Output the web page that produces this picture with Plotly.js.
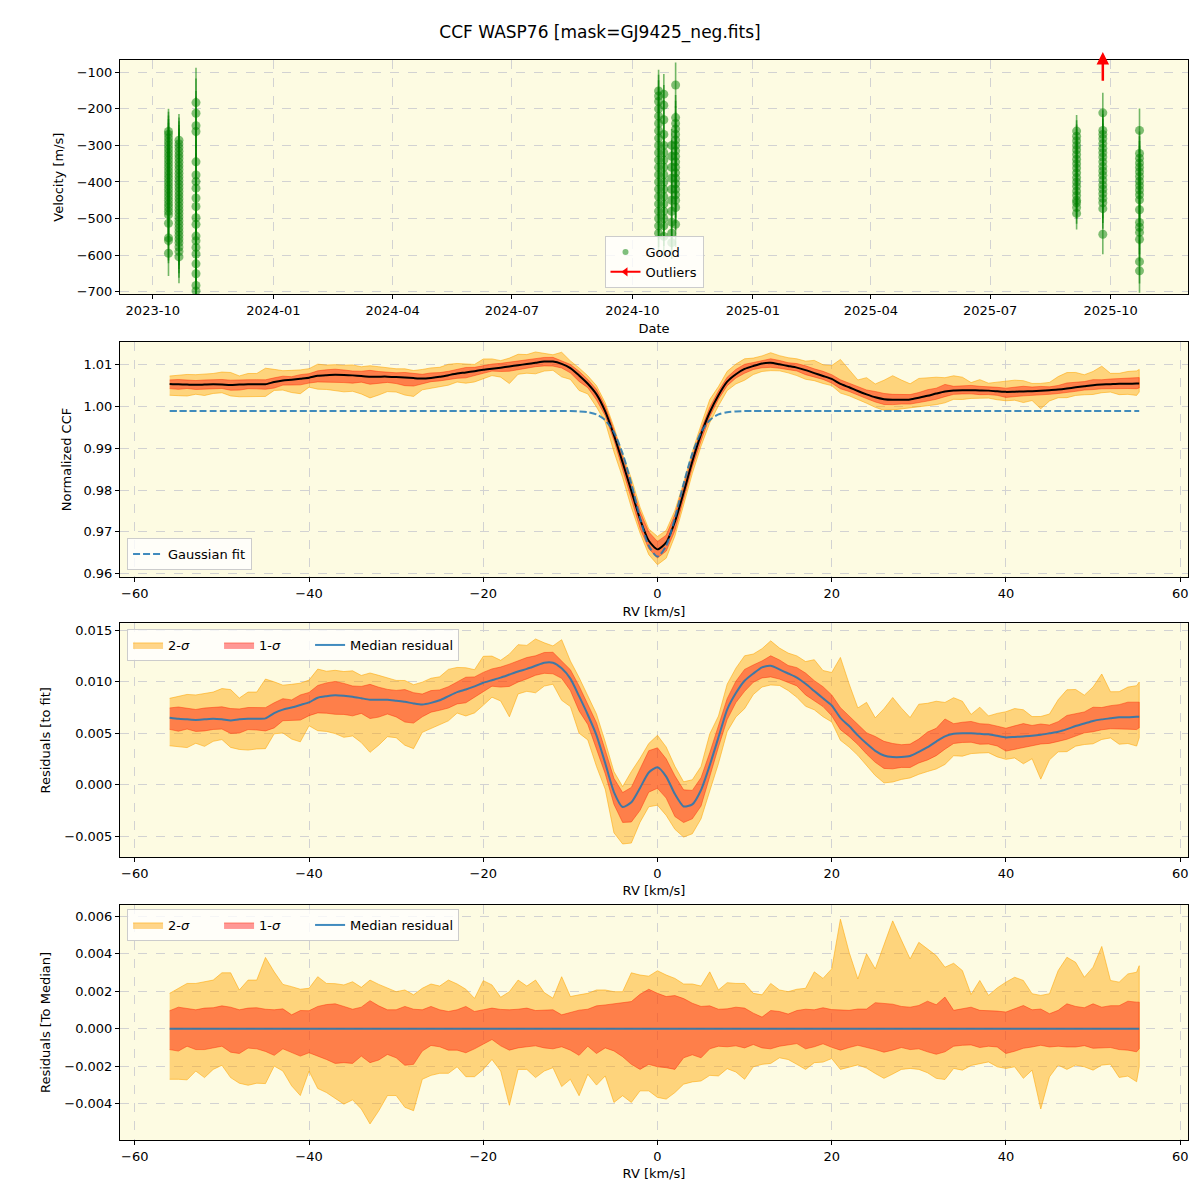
<!DOCTYPE html>
<html>
<head>
<meta charset="utf-8">
<script src="https://cdn.plot.ly/plotly-3.0.1.min.js"></script>
<style>html,body{margin:0;padding:0;background:#fff}#chart{width:1200px;height:1200px}</style>
</head>
<body>
<div id="chart"></div>
<script>
// ================= DATA =================
// Panel 1: RV time series (one date per observing night, values in m/s)
const night_dates = ['2023-10-13','2023-10-21','2023-11-03','2024-10-21','2024-10-25','2024-10-31','2024-11-03','2025-09-05','2025-09-25','2025-10-23'];
const night_vals = [
  [-262,-270,-280,-290,-300,-310,-320,-330,-340,-350,-360,-370,-380,-390,-400,-410,-420,-430,-440,-450,-460,-470,-480,-490,-513,-553,-560,-595],
  [-286,-296,-306,-316,-326,-336,-346,-356,-366,-376,-386,-396,-406,-416,-426,-436,-446,-456,-466,-476,-486,-496,-506,-516,-526,-536,-546,-556,-566,-578,-590,-605],
  [-183,-212,-246,-262,-345,-381,-399,-417,-444,-467,-498,-516,-548,-561,-579,-597,-624,-651,-683,-698],
  [-151,-165,-180,-200,-220,-240,-260,-280,-300,-320,-340,-360,-380,-400,-420,-440,-460,-480,-500,-520,-540],
  [-160,-190,-230,-270,-300,-320,-340,-360,-380,-400,-420,-440,-460,-480,-500,-520,-549],
  [-300,-330,-360,-390,-420,-450,-480,-510,-540,-566],
  [-135,-224,-240,-255,-270,-285,-300,-315,-330,-345,-360,-375,-390,-405,-420,-435,-450,-470,-516],
  [-261,-275,-287,-300,-312,-325,-338,-350,-362,-375,-388,-400,-412,-425,-437,-450,-457,-470,-486],
  [-211,-259,-270,-282,-295,-308,-320,-332,-345,-358,-370,-382,-395,-408,-420,-432,-445,-457,-473,-543],
  [-259,-322,-335,-348,-360,-372,-385,-398,-410,-422,-435,-449,-476,-511,-524,-538,-557,-618,-643]
];
const night_errs = [62,72,95,58,55,45,62,44,55,60];
const outlier_dates = ['2025-09-25'];
const outlier_vals = [150];

// Panels 2-4: CCF on an RV grid (km/s)
const rv = [-56,-55,-54,-53,-52,-51,-50,-49,-48,-47,-46,-45,-44,-43,-42,-41,-40,-39,-38,-37,-36,-35,-34,-33,-32,-31,-30,-29,-28,-27,-26,-25,-24,-23,-22,-21,-20,-19,-18,-17,-16,-15,-14,-13,-12,-11,-10,-9,-8,-7,-6,-5,-4,-3,-2,-1,0,1,2,3,4,5,6,7,8,9,10,11,12,13,14,15,16,17,18,19,20,21,22,23,24,25,26,27,28,29,30,31,32,33,34,35,36,37,38,39,40,41,42,43,44,45,46,47,48,49,50,51,52,53,54,55,55.3];

const ccf_median = [
  1.0054,1.0053,1.00525,1.0052,1.00525,1.0053,1.00525,1.00515,1.00525,1.0053,1.0053,1.00535,
  1.00585,1.0062,1.0064,1.00665,1.0069,1.00735,1.0075,1.0076,1.00755,1.00745,1.0073,1.00715,
  1.00715,1.00715,1.00705,1.00695,1.0068,1.0067,1.00685,1.0071,1.0075,1.0079,1.00815,1.00845,
  1.0088,1.00905,1.0093,1.0096,1.0099,1.01015,1.01045,1.01075,1.01075,1.0102,1.0092,1.00743,
  1.00545,1.0029,0.99882,0.99311,0.98658,0.9798,0.97302,0.96787,0.9658,0.96747,0.97242,0.9794,
  0.98683,0.99331,0.99862,1.0027,1.00595,1.00773,1.0090,1.0097,1.0103,1.01045,1.0101,1.0097,
  1.0093,1.0087,1.0080,1.0073,1.0066,1.0054,1.0046,1.0037,1.0029,1.0022,1.00175,1.0016,
  1.0016,1.0017,1.0021,1.00255,1.0031,1.0036,1.00385,1.0039,1.0039,1.00385,1.0038,1.00365,
  1.0035,1.00355,1.0036,1.00365,1.00375,1.0039,1.00405,1.0043,1.0046,1.00485,1.0051,1.00525,
  1.00535,1.00545,1.00545,1.0055,1.0055
];

const gauss_fit = [
  0.9989,0.9989,0.9989,0.9989,0.9989,0.9989,0.9989,0.9989,0.9989,0.9989,0.9989,0.9989,
  0.9989,0.9989,0.9989,0.9989,0.9989,0.9989,0.9989,0.9989,0.9989,0.9989,0.9989,0.9989,
  0.9989,0.9989,0.9989,0.9989,0.9989,0.9989,0.9989,0.9989,0.9989,0.9989,0.9989,0.9989,
  0.9989,0.9989,0.9989,0.9989,0.9989,0.9989,0.9989,0.9989,0.9989,0.9989,0.9989,0.99883,
  0.99865,0.9981,0.99672,0.99381,0.98873,0.9815,0.97332,0.96667,0.9641,0.96667,0.97332,0.9815,
  0.98873,0.99381,0.99672,0.9981,0.99865,0.99883,0.9989,0.9989,0.9989,0.9989,0.9989,0.9989,
  0.9989,0.9989,0.9989,0.9989,0.9989,0.9989,0.9989,0.9989,0.9989,0.9989,0.9989,0.9989,
  0.9989,0.9989,0.9989,0.9989,0.9989,0.9989,0.9989,0.9989,0.9989,0.9989,0.9989,0.9989,
  0.9989,0.9989,0.9989,0.9989,0.9989,0.9989,0.9989,0.9989,0.9989,0.9989,0.9989,0.9989,
  0.9989,0.9989,0.9989,0.9989,0.9989
];

// median residual to the Gaussian fit, in units of 1e-3
const resid_median_milli = [
  6.5,6.4,6.35,6.3,6.35,6.4,6.35,6.25,6.35,6.4,6.4,6.45,
  6.95,7.3,7.5,7.75,8.0,8.45,8.6,8.7,8.65,8.55,8.4,8.25,
  8.25,8.25,8.15,8.05,7.9,7.8,7.95,8.2,8.6,9.0,9.25,9.55,
  9.9,10.15,10.4,10.7,11.0,11.25,11.55,11.85,11.85,11.3,10.3,8.6,
  6.8,4.8,2.1,-0.7,-2.15,-1.7,-0.3,1.2,1.7,0.8,-0.9,-2.1,
  -1.9,-0.5,1.9,4.6,7.3,8.9,10.1,10.8,11.4,11.55,11.2,10.8,
  10.4,9.8,9.1,8.4,7.7,6.5,5.7,4.8,4.0,3.3,2.85,2.7,
  2.7,2.8,3.2,3.65,4.2,4.7,4.95,5.0,5.0,4.95,4.9,4.75,
  4.6,4.65,4.7,4.75,4.85,5.0,5.15,5.4,5.7,5.95,6.2,6.35,
  6.45,6.55,6.55,6.6,6.6
];

// spread of the individual CCFs around the median (quantile offsets), units of 1e-3
const dev_hi2_milli = [
  1.89,2.16,2.42,2.42,2.51,2.60,2.99,2.99,2.07,2.60,2.60,3.81,
  3.04,2.37,2.25,2.11,2.16,2.78,2.42,2.41,2.34,2.51,2.21,2.60,
  2.37,2.16,1.98,2.07,1.81,2.16,2.39,2.28,2.60,2.39,2.11,1.62,
  2.57,2.34,1.68,1.98,2.60,2.28,2.60,1.93,1.63,2.78,1.72,1.81,
  1.89,2.07,2.07,1.98,1.98,2.99,2.87,2.81,3.10,2.87,2.69,2.39,
  2.39,2.28,3.04,2.07,2.46,2.42,2.42,1.89,1.81,2.42,2.07,1.98,
  2.11,2.16,3.04,2.69,3.20,5.86,4.09,2.66,4.00,3.20,4.53,5.77,
  4.74,3.73,4.62,4.26,3.91,3.29,3.50,3.11,1.83,2.58,1.78,2.18,
  2.49,2.75,2.58,1.87,1.78,1.87,3.11,3.82,3.55,2.75,3.29,4.40,
  2.58,2.49,2.93,3.02,3.37
];
const dev_hi1_milli = [
  0.96,1.15,1.08,1.01,1.10,1.12,1.22,1.15,1.01,1.10,1.12,1.04,
  1.01,1.06,0.74,0.97,0.96,1.19,1.29,1.33,1.19,1.04,1.15,1.50,
  1.22,1.01,1.01,1.19,1.04,1.01,1.19,1.01,0.92,1.01,1.19,0.92,
  1.01,1.10,1.03,1.01,1.04,1.10,0.97,0.99,1.01,0.74,0.87,0.99,
  1.04,1.22,1.27,1.33,1.40,1.45,1.84,2.11,1.89,1.72,1.77,1.61,
  1.36,1.19,1.22,1.04,1.06,1.15,1.10,0.83,0.62,0.97,0.92,0.78,
  0.97,1.04,1.01,1.12,1.02,0.99,0.98,1.05,1.05,1.39,1.37,1.31,
  1.19,1.15,1.24,1.47,1.28,1.69,0.98,1.07,1.15,0.98,0.98,0.94,
  0.89,1.07,1.24,1.01,1.05,0.80,0.98,1.33,1.19,1.12,1.33,1.15,
  1.23,1.23,1.47,1.42,1.42
];
const dev_lo1_milli = [
  -1.12,-1.20,-0.94,-1.12,-1.12,-1.03,-0.94,-1.26,-1.33,-1.04,-1.08,-1.22,
  -1.43,-1.08,-1.26,-1.47,-1.29,-1.47,-1.65,-1.86,-1.82,-1.86,-1.47,-1.82,
  -1.68,-1.38,-1.56,-1.96,-1.91,-1.20,-0.90,-0.97,-1.15,-1.15,-1.29,-1.08,
  -0.85,-0.58,-0.92,-1.15,-1.03,-0.97,-0.92,-1.03,-1.08,-0.97,-1.15,-1.43,
  -0.94,-1.33,-1.03,-1.19,-1.50,-1.91,-2.18,-1.91,-2.04,-2.09,-2.18,-1.56,
  -1.40,-1.56,-1.08,-0.94,-0.97,-0.92,-1.03,-0.85,-1.03,-1.08,-0.94,-0.85,
  -0.80,-1.08,-0.97,-0.81,-1.00,-1.15,-1.01,-0.89,-1.01,-1.12,-1.26,-1.15,
  -1.01,-1.12,-1.08,-1.24,-1.37,-1.24,-0.94,-0.89,-0.87,-1.01,-0.94,-0.98,
  -1.33,-1.21,-1.05,-0.98,-0.89,-0.98,-0.94,-0.98,-0.98,-0.91,-1.05,-1.01,
  -1.01,-1.12,-1.15,-1.24,-1.07
];
const dev_lo2_milli = [
  -2.71,-2.71,-2.74,-2.27,-2.62,-2.18,-1.96,-2.62,-2.92,-3.03,-2.92,-2.94,
  -2.00,-2.27,-3.06,-3.58,-2.27,-3.20,-3.42,-3.73,-4.04,-3.81,-4.30,-5.10,
  -4.40,-3.58,-3.58,-4.21,-4.39,-2.71,-2.50,-2.39,-2.39,-2.04,-2.57,-2.57,
  -2.18,-1.65,-2.27,-4.10,-2.18,-2.18,-2.62,-2.27,-2.09,-3.10,-2.71,-3.59,
  -2.44,-3.02,-2.53,-3.95,-3.59,-3.95,-3.33,-3.33,-3.68,-3.77,-3.42,-2.97,
  -2.85,-2.80,-2.50,-2.53,-2.14,-2.32,-2.71,-2.04,-1.91,-1.86,-1.56,-1.65,
  -1.91,-2.18,-1.82,-1.79,-1.60,-2.18,-2.04,-1.94,-2.11,-2.40,-2.66,-2.43,
  -2.18,-2.13,-2.18,-2.36,-2.66,-2.72,-2.13,-2.22,-1.97,-1.87,-1.78,-2.04,
  -2.13,-2.04,-2.66,-2.22,-4.30,-2.58,-1.95,-2.18,-1.95,-2.04,-2.22,-1.95,
  -1.90,-2.61,-2.54,-2.84,-2.04
];
const median_to_median = rv.map(() => 0);

// ================= BUILD =================
const good_x = [], good_y = [], good_e = [];
night_dates.forEach((d, i) => night_vals[i].forEach(v => { good_x.push(d); good_y.push(v); good_e.push(night_errs[i]); }));

const resid_median = resid_median_milli.map(v => v / 1000);

function bandXY(base, lo, hi) {
  const up = base.map((b, i) => b + hi[i] / 1000);
  const dn = base.map((b, i) => b + lo[i] / 1000);
  return { x: rv.concat(rv.slice().reverse()), y: up.concat(dn.slice().reverse()) };
}

const C2 = 'rgba(255,165,0,0.45)', C2L = 'rgba(255,165,0,0.55)';
const C1 = 'rgba(255,0,0,0.40)', C1L = 'rgba(255,40,0,0.45)';
const BLUE = 'rgba(31,119,180,0.85)';
const FONT = 'DejaVu Sans, sans-serif';
const NB = '\u00a0';

function bands(xa, ya, base, legendName, show) {
  const b2 = bandXY(base, dev_lo2_milli, dev_hi2_milli);
  const b1 = bandXY(base, dev_lo1_milli, dev_hi1_milli);
  return [
    { x: b2.x, y: b2.y, xaxis: xa, yaxis: ya, type: 'scatter', mode: 'lines', fill: 'toself',
      fillcolor: C2, line: { color: C2L, width: 1 }, name: '2-<i>σ</i>' + NB.repeat(6), showlegend: show, legend: legendName, hoverinfo: 'skip' },
    { x: b1.x, y: b1.y, xaxis: xa, yaxis: ya, type: 'scatter', mode: 'lines', fill: 'toself',
      fillcolor: C1, line: { color: C1L, width: 1 }, name: '1-<i>σ</i>' + NB.repeat(6), showlegend: show, legend: legendName, hoverinfo: 'skip' }
  ];
}

const traces = [];
// Panel 1
traces.push({
  x: good_x, y: good_y, xaxis: 'x', yaxis: 'y', type: 'scatter', mode: 'markers', name: 'Good', showlegend: false,
  marker: { color: 'rgba(0,128,0,0.5)', size: 9, line: { width: 0 } },
  error_y: { type: 'data', array: good_e, visible: true, color: 'rgba(0,128,0,0.55)', thickness: 1.6, width: 0 },
  cliponaxis: true
});
// legend proxy for the "Good" points (small marker as in the legend of the reference)
traces.push({
  x: [null], y: [null], xaxis: 'x', yaxis: 'y', type: 'scatter', mode: 'markers', name: 'Good',
  marker: { color: 'rgba(0,128,0,0.5)', size: 6 }, legend: 'legend'
});
traces.push({
  x: outlier_dates, y: outlier_vals, xaxis: 'x', yaxis: 'y', type: 'scatter', mode: 'lines+markers', name: 'Outliers',
  line: { color: 'red', width: 2 }, marker: { color: 'red', size: 8, symbol: 'triangle-left' },
  legend: 'legend', cliponaxis: true
});
// Panel 2
traces.push(...bands('x2', 'y2', ccf_median, 'legend2', false));
traces.push({ x: rv, y: ccf_median, xaxis: 'x2', yaxis: 'y2', type: 'scatter', mode: 'lines',
  line: { color: 'black', width: 2, shape: 'spline', smoothing: 0.6 }, showlegend: false, name: 'median' });
traces.push({ x: rv, y: gauss_fit, xaxis: 'x2', yaxis: 'y2', type: 'scatter', mode: 'lines', name: 'Gaussian fit',
  line: { color: BLUE, width: 2, dash: '7px,3px', shape: 'spline', smoothing: 0.8 }, legend: 'legend2' });
// Panel 3
traces.push(...bands('x3', 'y3', resid_median, 'legend3', true));
traces.push({ x: rv, y: resid_median, xaxis: 'x3', yaxis: 'y3', type: 'scatter', mode: 'lines', name: 'Median residual',
  line: { color: BLUE, width: 2, shape: 'spline', smoothing: 0.6 }, legend: 'legend3' });
// Panel 4
traces.push(...bands('x4', 'y4', median_to_median, 'legend4', true));
traces.push({ x: rv, y: median_to_median, xaxis: 'x4', yaxis: 'y4', type: 'scatter', mode: 'lines', name: 'Median residual',
  line: { color: BLUE, width: 2 }, legend: 'legend4' });

const axBase = {
  showline: true, linecolor: 'black', linewidth: 1, mirror: true,
  ticks: 'outside', ticklen: 4, tickwidth: 1, tickcolor: 'black',
  showgrid: true, gridcolor: '#d2d2d2', griddash: 'dash', gridwidth: 1,
  zeroline: false, tickfont: { size: 13, color: 'black', family: FONT }
};
const tFont = { size: 13, color: 'black', family: FONT };
const rvAxis = (anchor) => Object.assign({}, axBase, {
  domain: [0, 1], anchor: anchor, range: [-61.7, 60.9], tick0: 0, dtick: 20,
  title: { text: 'RV [km/s]', font: tFont, standoff: 6 }
});
const legBase = {
  bgcolor: 'rgba(255,255,255,0.8)', bordercolor: '#cccccc', borderwidth: 1,
  font: { size: 13, color: 'black', family: FONT }
};

const yRange1 = [-707.4, -66.5];
const ySpan1 = yRange1[1] - yRange1[0];

const layout = {
  width: 1200, height: 1200,
  margin: { l: 120, r: 12, t: 60, b: 60 },
  paper_bgcolor: 'white', plot_bgcolor: '#fdfbe2',
  font: { family: FONT, color: 'black', size: 13 },
  title: { text: 'CCF WASP76 [mask=GJ9425_neg.fits]', x: 0.5, xref: 'container', xanchor: 'center',
           y: 1 - 32 / 1200, yref: 'container', yanchor: 'middle', font: { size: 17, family: FONT, color: 'black' } },
  xaxis: Object.assign({}, axBase, {
    domain: [0, 1], anchor: 'y', type: 'date', range: ['2023-09-06', '2025-11-29'],
    tick0: '2023-10-01', dtick: 'M3', tickformat: '%Y-%m',
    title: { text: 'Date', font: tFont, standoff: 6 }
  }),
  yaxis: Object.assign({}, axBase, {
    domain: [0.783, 1.0], anchor: 'x', range: yRange1, dtick: 100,
    title: { text: 'Velocity [m/s]', font: tFont, standoff: 10 }
  }),
  xaxis2: rvAxis('y2'),
  yaxis2: Object.assign({}, axBase, {
    domain: [0.521, 0.7392], anchor: 'x2', range: [0.95911, 1.01552], dtick: 0.01, tickformat: '.2f',
    title: { text: 'Normalized CCF', font: tFont, standoff: 8 }
  }),
  xaxis3: rvAxis('y3'),
  yaxis3: Object.assign({}, axBase, {
    domain: [0.2618, 0.4784], anchor: 'x3', range: [-0.00703, 0.01567], dtick: 0.005, tickformat: '.3f',
    title: { text: 'Residuals [to fit]', font: tFont, standoff: 10 }
  }),
  xaxis4: rvAxis('y4'),
  yaxis4: Object.assign({}, axBase, {
    domain: [0, 0.2176], anchor: 'x4', range: [-0.00596, 0.00662], dtick: 0.002, tickformat: '.3f',
    title: { text: 'Residuals [To Median]', font: tFont, standoff: 10 }
  }),
  legend: Object.assign({}, legBase, { x: 0.5, xanchor: 'center', y: (1140 - 288) / 1080, yanchor: 'bottom', orientation: 'v' }),
  legend2: Object.assign({}, legBase, { x: 0.0066, xanchor: 'left', y: (1140 - 570) / 1080, yanchor: 'bottom', orientation: 'v' }),
  legend3: Object.assign({}, legBase, { x: 0.0066, xanchor: 'left', y: (1140 - 629) / 1080, yanchor: 'top', orientation: 'h' }),
  legend4: Object.assign({}, legBase, { x: 0.0066, xanchor: 'left', y: (1140 - 909) / 1080, yanchor: 'top', orientation: 'h' }),
  annotations: outlier_dates.map(d => ({
    x: d, y: yRange1[1] + 0.034 * ySpan1, xref: 'x', yref: 'y',
    ax: d, ay: yRange1[1] - 0.095 * ySpan1, axref: 'x', ayref: 'y',
    text: '', showarrow: true, arrowhead: 2, arrowsize: 1, arrowwidth: 2.5, arrowcolor: 'red'
  })),
  showlegend: true,
  hovermode: false
};

Plotly.newPlot('chart', traces, layout, { staticPlot: true, displayModeBar: false });
</script>
</body>
</html>
